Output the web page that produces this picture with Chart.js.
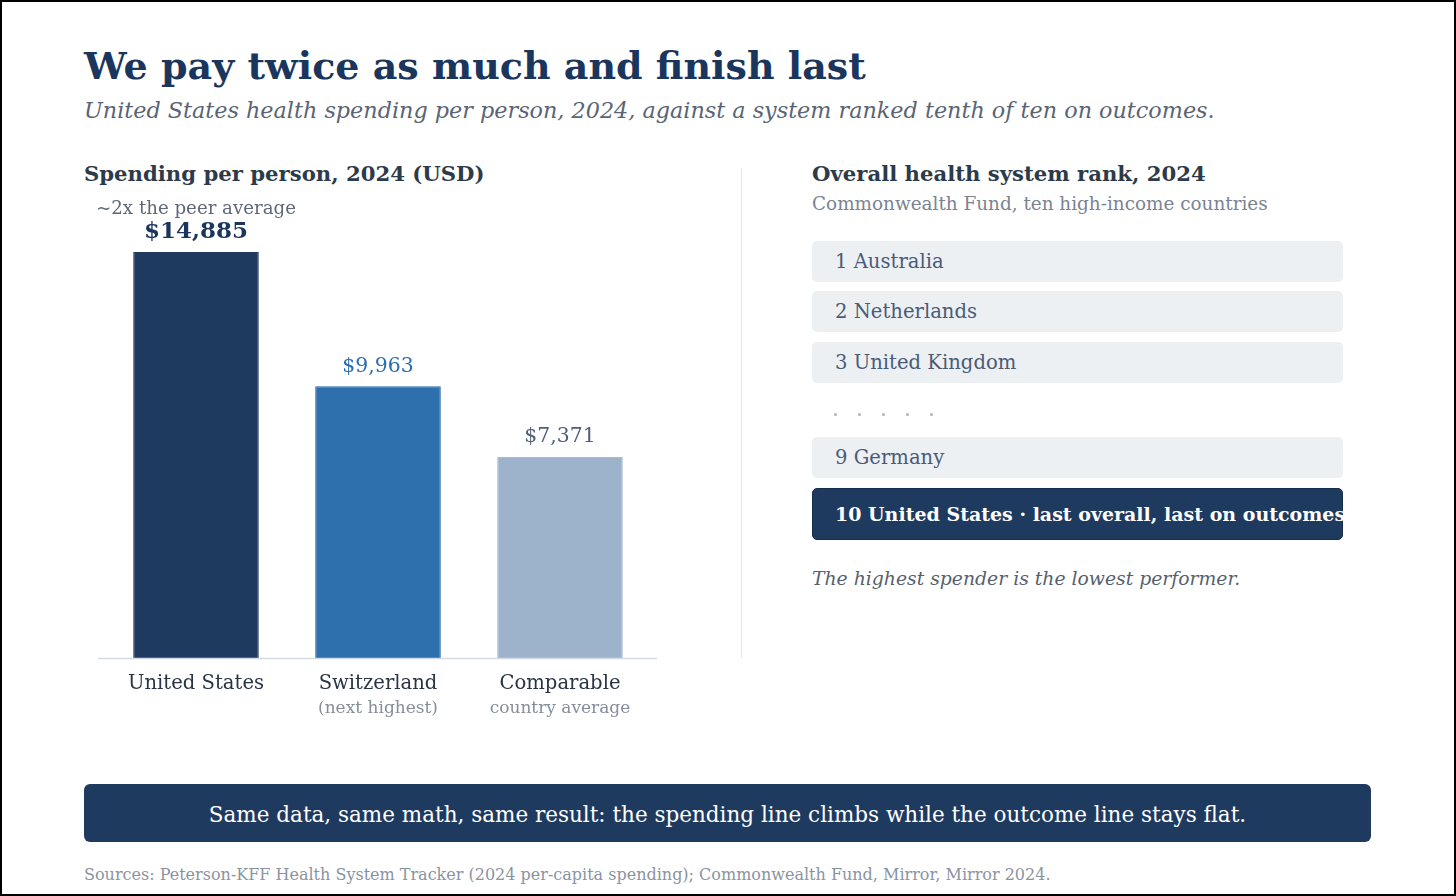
<!DOCTYPE html>
<html>
<head>
<meta charset="utf-8">
<script src="https://cdn.jsdelivr.net/npm/chart.js@4.4.1/dist/chart.umd.min.js"></script>
<style>
  html, body { margin: 0; padding: 0; background: #fff; }
  body { width: 1456px; height: 896px; position: relative; overflow: hidden; font-family: "DejaVu Serif", serif; }
  #frame { position: absolute; left: 0; top: 0; width: 1456px; height: 896px; box-sizing: border-box; border: 2px solid #000; pointer-events: none; }
  .t { position: absolute; white-space: nowrap; line-height: 1; }
  #title { left: 84px; top: 47px; font-size: 38px; font-weight: bold; color: #1b365d; }
  #subtitle { left: 84px; top: 99px; font-size: 22.3px; font-style: italic; color: #5a6474; }
  .head { font-size: 21.2px; font-weight: bold; color: #2d3a4a; }
  #chartWrap { position: absolute; left: 84px; top: 190px; width: 600px; height: 540px; }
  #sep { position: absolute; left: 741px; top: 168px; width: 1px; height: 490px; background: #e2e8f0; }
  .row { position: absolute; left: 812px; width: 531px; height: 41px; background: #edf0f3; border-radius: 5px;
         box-sizing: border-box; padding-left: 23px; font-size: 19.6px; color: #4a5b78; line-height: 42px; white-space: nowrap; }
  .row.last { background: #1f3a5f; border: 1px solid #15304f; color: #fff; font-weight: bold; font-size: 19px; height: 52px; line-height: 51px; padding-left: 22px; }
  #dots { position: absolute; left: 834px; top: 413px; height: 4px; }
  #dots span { display: inline-block; width: 3px; height: 3px; border-radius: 50%; background: #a8b2c0; margin-right: 21px; vertical-align: top; }
  #banner { position: absolute; left: 84px; top: 784px; width: 1287px; height: 58px; background: #1f3a5f; border-radius: 6px;
            color: #fff; font-size: 21.5px; text-align: center; line-height: 62px; }
</style>
</head>
<body>
<div id="title" class="t">We pay twice as much and finish last</div>
<div id="subtitle" class="t">United States health spending per person, 2024, against a system ranked tenth of ten on outcomes.</div>

<div class="t head" style="left:84px; top:163px;">Spending per person, 2024 (USD)</div>
<div id="chartWrap"><canvas id="chart"></canvas></div>

<div id="sep"></div>

<div class="t head" style="left:812px; top:163px;">Overall health system rank, 2024</div>
<div class="t" style="left:812px; top:195px; font-size:18.4px; color:#7a8392;">Commonwealth Fund, ten high-income countries</div>
<div id="ranks"></div>
<div class="t" style="left:812px; top:570px; font-size:18.8px; font-style:italic; color:#555f6f;">The highest spender is the lowest performer.</div>

<div id="banner">Same data, same math, same result: the spending line climbs while the outcome line stays flat.</div>
<div class="t" style="left:84px; top:867px; font-size:16px; color:#8a93a1;">Sources: Peterson-KFF Health System Tracker (2024 per-capita spending); Commonwealth Fund, Mirror, Mirror 2024.</div>
<div id="frame"></div>

<script>
// spending data
const categories = ['United States', 'Switzerland', 'Comparable'];
const subLabels = ['', '(next highest)', 'country average'];
const spending = [14885, 9963, 7371];
const barColors = ['#1f3a5f', '#2e6fae', '#9cb3cb'];
const barBorders = ['#1f3a5f', '#2863a3', '#a9bdd2'];
const valueColors = ['#1b365d', '#2b6cb0', '#4f5f77'];
const usNote = '~2x the peer average';

// rank list
const topRanks = [1, 2, 3];
const topCountries = ['Australia', 'Netherlands', 'United Kingdom'];
const bottomRanks = [9, 10];
const bottomCountries = ['Germany', 'United States \u00b7 last overall, last on outcomes'];

// ---- rank rows ----
var ranksDiv = document.getElementById('ranks');
var rowTops = [241, 291, 342];
topRanks.forEach(function (r, i) {
  var d = document.createElement('div');
  d.className = 'row';
  d.style.top = rowTops[i] + 'px';
  d.textContent = r + ' ' + topCountries[i];
  ranksDiv.appendChild(d);
});
var dots = document.createElement('div');
dots.id = 'dots';
for (var k = 0; k < 5; k++) dots.appendChild(document.createElement('span'));
ranksDiv.appendChild(dots);
var bottomTops = [437, 488];
bottomRanks.forEach(function (r, i) {
  var d = document.createElement('div');
  d.className = 'row' + (i === bottomRanks.length - 1 ? ' last' : '');
  d.style.top = bottomTops[i] + 'px';
  d.textContent = r + ' ' + bottomCountries[i];
  ranksDiv.appendChild(d);
});

// ---- bar chart ----
const labelPlugin = {
  id: 'labels',
  afterDatasetsDraw(chart) {
    const ctx = chart.ctx;
    const area = chart.chartArea;
    const meta = chart.getDatasetMeta(0);
    ctx.save();
    // baseline axis
    ctx.strokeStyle = '#d3dae3';
    ctx.lineWidth = 1.5;
    ctx.beginPath();
    ctx.moveTo(area.left - 7, area.bottom + 0.5);
    ctx.lineTo(area.right + 6, area.bottom + 0.5);
    ctx.stroke();

    ctx.textAlign = 'center';
    ctx.textBaseline = 'middle';
    meta.data.forEach(function (bar, i) {
      // value label
      ctx.fillStyle = valueColors[i];
      ctx.font = (i === 0 ? 'bold 23px' : '20.4px') + ' "DejaVu Serif"';
      ctx.fillText('$' + spending[i].toLocaleString('en-US'), bar.x, bar.y - 20);
      // category labels
      ctx.fillStyle = '#2a3444';
      ctx.font = '19.6px "DejaVu Serif"';
      ctx.fillText(categories[i], bar.x, area.bottom + 26);
      if (subLabels[i]) {
        ctx.fillStyle = '#858e9c';
        ctx.font = '17px "DejaVu Serif"';
        ctx.fillText(subLabels[i], bar.x, area.bottom + 51);
      }
    });
    // note above the US bar
    const us = meta.data[0];
    ctx.fillStyle = '#5f6877';
    ctx.font = '18.2px "DejaVu Serif"';
    ctx.fillText(usNote, us.x, us.y - 43);
    ctx.restore();
  }
};

const myChart = new Chart('chart', {
  type: 'bar',
  data: {
    labels: categories,
    datasets: [{
      data: spending,
      backgroundColor: barColors,
      borderColor: barBorders,
      borderWidth: 1,
      barPercentage: 0.69,
      categoryPercentage: 1
    }]
  },
  options: {
    responsive: true,
    maintainAspectRatio: false,
    animation: false,
    layout: { padding: { left: 21, right: 33, top: 31.6, bottom: 72 } },
    plugins: { legend: { display: false }, tooltip: { enabled: false } },
    scales: {
      x: { display: false },
      y: { display: false, min: 0, max: 16000 }
    }
  },
  plugins: [labelPlugin]
});
</script>
</body>
</html>
